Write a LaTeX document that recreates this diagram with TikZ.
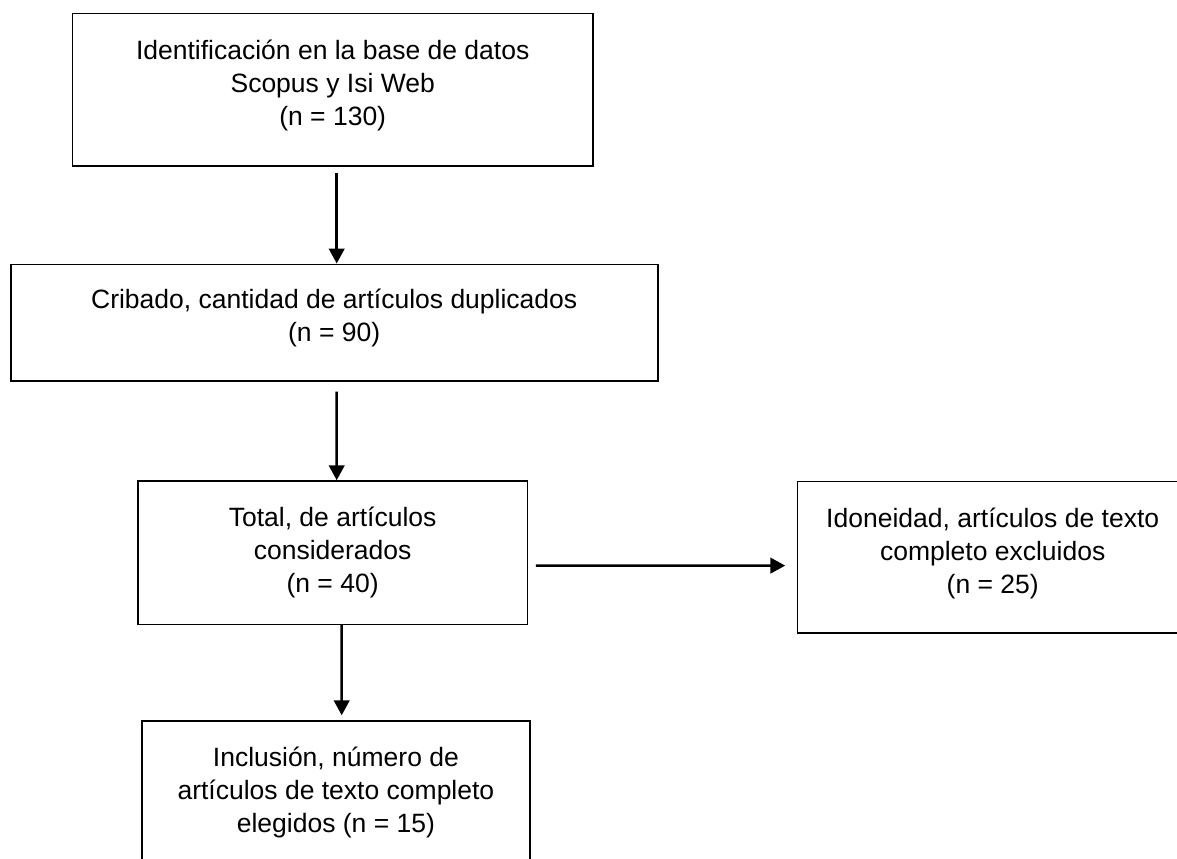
\documentclass[tikz,border=0pt]{standalone}
\usepackage{fontspec}
\setmainfont{Liberation Sans}
\usetikzlibrary{arrows.meta}

\tikzset{
  caja/.style={
    rectangle,
    draw=black,
    line width=0.8pt,
    align=center,
    inner sep=2pt,
    font=\fontsize{13.25}{16.5}\selectfont
  },
  flecha/.style={-{Triangle[length=7.5pt,width=7.8pt]}, line width=1.25pt}
}

\begin{document}
\begin{tikzpicture}[x=0.5pt, y=-0.5pt]
  \clip (0,0) rectangle (1177,858);

  % cajas del diagrama
  \node[caja, minimum width=260.35pt, minimum height=76.35pt, text depth=7.3pt]
    (ident) at (332.7,89.7)
    {Identificación en la base de datos\\ Scopus y Isi Web\\ (n = 130)};
  \node[caja, minimum width=323.5pt, minimum height=58.2pt, text depth=7.3pt]
    (cribado) at (334.2,322.5)
    {Cribado, cantidad de artículos duplicados\\ (n = 90)};
  \node[caja, minimum width=194.75pt, minimum height=71.65pt]
    (total) at (332.6,552.7)
    {Total, de artículos\\ considerados\\ (n = 40)};
  \node[caja, minimum width=195.35pt, minimum height=75.7pt, text depth=6.3pt]
    (idoneidad) at (992.7,557)
    {Idoneidad, artículos de texto\\ completo excluidos\\ (n = 25)};
  \node[caja, minimum width=194.15pt, minimum height=71.65pt]
    (inclusion) at (335.9,792.4)
    {Inclusión, número de\\ artículos de texto completo\\ elegidos (n = 15)};

  % flechas
  \draw[flecha] ([xshift=2pt,yshift=-2.85pt]ident.south) -- ([xshift=1.25pt]cribado.north);
  \draw[flecha] ([xshift=1.25pt,yshift=-5pt]cribado.south) -- ([xshift=2.05pt]total.north);
  \draw[flecha] ([xshift=4.55pt]total.south) -- ([xshift=2.9pt,yshift=2.35pt]inclusion.north);
  \draw[flecha] ([xshift=3.85pt,yshift=-6.45pt]total.east) -- ([xshift=-5.65pt,yshift=-4.3pt]idoneidad.west);
\end{tikzpicture}
\end{document}
